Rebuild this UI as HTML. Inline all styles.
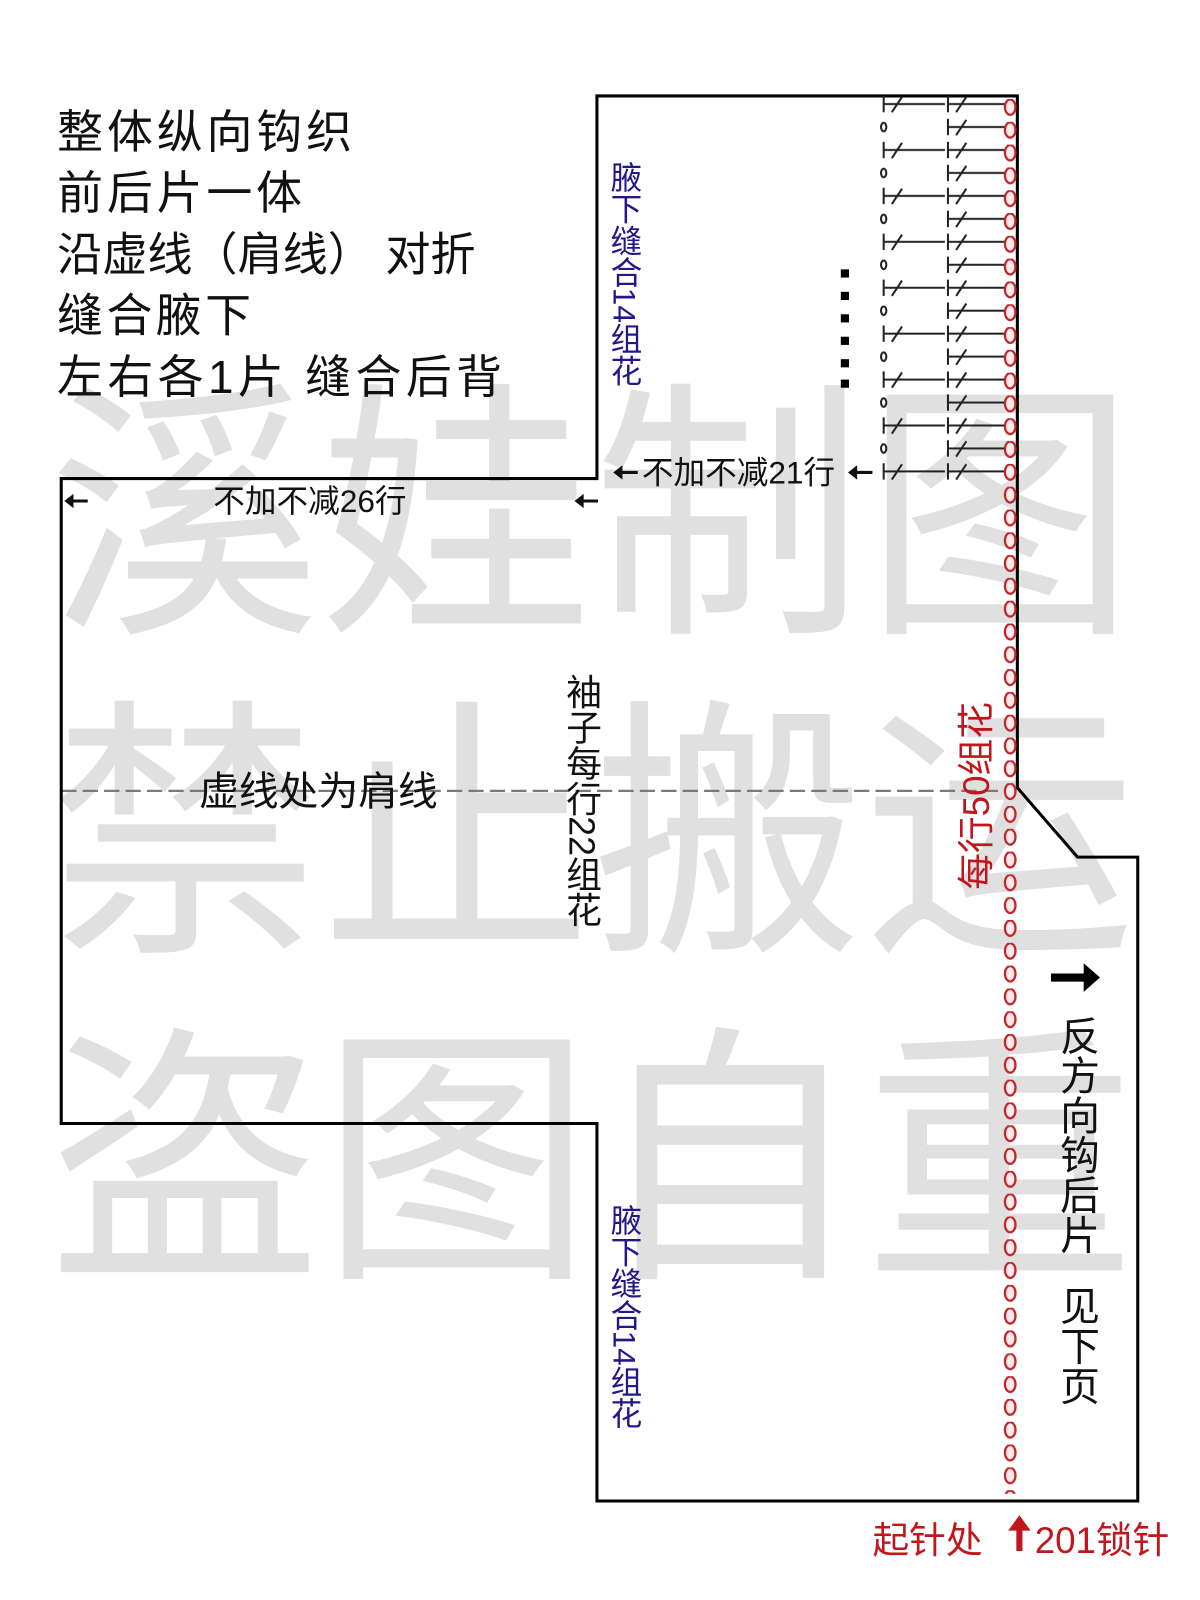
<!DOCTYPE html>
<html><head><meta charset="utf-8">
<style>
html,body{margin:0;padding:0;background:#fff;}
svg{display:block;}
text{font-family:"Liberation Sans","Noto Sans CJK SC",sans-serif;}
</style></head>
<body>
<svg width="1200" height="1600" viewBox="0 0 1176 1568" xmlns="http://www.w3.org/2000/svg">
<defs>
<pattern id="chain" patternUnits="userSpaceOnUse" x="0" y="97" width="1176" height="22.35">
<ellipse cx="990" cy="8" rx="5.2" ry="7.5" fill="#fde8ea" stroke="#c0272d" stroke-width="2.2"/>
</pattern>
<pattern id="st" patternUnits="userSpaceOnUse" x="0" y="90" width="1176" height="45">
<g stroke="#222" stroke-width="2" fill="none">
<line x1="866" y1="4" x2="866" y2="20"/><line x1="866" y1="12" x2="926" y2="12"/><line x1="874" y1="20" x2="884" y2="5"/>
<line x1="929" y1="4" x2="929" y2="20"/><line x1="929" y1="12" x2="986" y2="12"/><line x1="937" y1="20" x2="947" y2="5"/>
<ellipse cx="866" cy="34.5" rx="2.6" ry="4.2"/>
<line x1="929" y1="26.5" x2="929" y2="42.5"/><line x1="929" y1="34.5" x2="986" y2="34.5"/><line x1="937" y1="42.5" x2="947" y2="27.5"/>
</g>
</pattern>
</defs>
<rect width="1176" height="1568" fill="#fff"/>
<g fill="#e0e0e0" font-size="268">
<text x="48" y="600" textLength="1065" lengthAdjust="spacingAndGlyphs">溪娃制图</text>
<text x="48" y="912" textLength="1065" lengthAdjust="spacingAndGlyphs">禁止搬运</text>
<text x="48" y="1232" textLength="1065" lengthAdjust="spacingAndGlyphs">盗图自重</text>
</g>
<g font-size="45" fill="#111">
<text x="56" y="145" textLength="289">整体纵向钩织</text>
<text x="56" y="205" textLength="240">前后片一体</text>
<text x="56" y="265" textLength="410" lengthAdjust="spacingAndGlyphs">沿虚线（肩线） 对折</text>
<text x="56" y="325" textLength="190">缝合腋下</text>
<text x="56" y="385" textLength="436">左右各1片  缝合后背</text>
</g>
<line x1="60" y1="775" x2="995" y2="775" stroke="#7a7a7a" stroke-width="2.2" stroke-dasharray="15 6"/>
<path d="M585 94 L997 94 L997 772 L1056 840 L1115 840 L1115 1471 L585 1471 L585 1101 L60 1101 L60 469 L585 469 Z" fill="none" stroke="#000" stroke-width="3"/>
<rect x="858" y="92" width="132" height="380" fill="url(#st)"/>
<rect x="980" y="96" width="20" height="1368" fill="url(#chain)"/>
<g fill="#000">
<rect x="824" y="264" width="8" height="8"/><rect x="824" y="286" width="8" height="8"/><rect x="824" y="308" width="8" height="8"/>
<rect x="824" y="330" width="8" height="8"/><rect x="824" y="352" width="8" height="8"/><rect x="824" y="372" width="8" height="8"/>
</g>
<g fill="#111">
<path d="M601 463 L610 456 L610 461.5 L625 461.5 L625 464.5 L610 464.5 L610 470 Z"/>
<path d="M831 463 L840 456 L840 461.5 L855 461.5 L855 464.5 L840 464.5 L840 470 Z"/>
<path d="M63 491 L72 484 L72 489.5 L86 489.5 L86 492.5 L72 492.5 L72 498 Z"/>
<path d="M563 491 L572 484 L572 489.5 L586 489.5 L586 492.5 L572 492.5 L572 498 Z"/>
</g>
<text x="629" y="474" font-size="31" fill="#111">不加不减21行</text>
<text x="209" y="502" font-size="31" fill="#111">不加不减26行</text>
<text x="195" y="789" font-size="39" fill="#111">虚线处为肩线</text>
<text x="570" y="660" font-size="35" fill="#111" writing-mode="tb">袖子每行22组花</text>
<text x="612" y="158" font-size="31" fill="#24178a" writing-mode="tb">腋下缝合14组花</text>
<text x="612" y="1180" font-size="31" fill="#24178a" writing-mode="tb">腋下缝合14组花</text>
<text transform="translate(969 872) rotate(-90)" font-size="36" fill="#c0161d">每行50组花</text>
<path d="M1030 954 L1062 954 L1062 944 L1078 958 L1062 972 L1062 962 L1030 962 Z" fill="#000"/>
<text x="1055" y="995" font-size="39" fill="#111" writing-mode="tb">反方向钩后片</text>
<text x="1055" y="1260" font-size="39" fill="#111" writing-mode="tb">见下页</text>
<text x="855" y="1522" font-size="36" fill="#c0161d">起针处</text>
<path d="M996 1520 L996 1500 L988 1500 L999 1485 L1010 1500 L1002 1500 L1002 1520 Z" fill="#c0161d"/>
<text x="1014" y="1522" font-size="36" fill="#c0161d">201锁针</text>
</svg>
</body></html>
